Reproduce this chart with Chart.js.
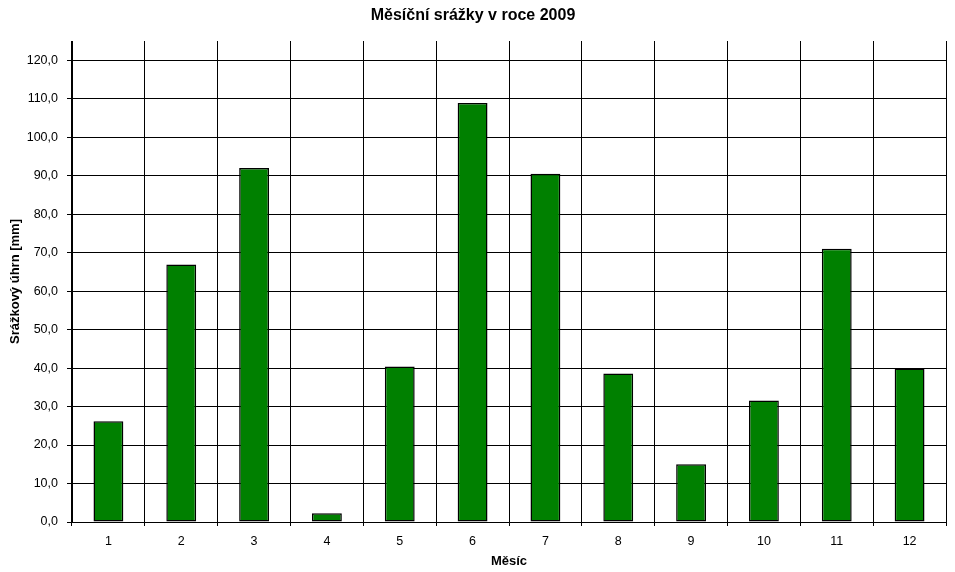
<!DOCTYPE html>
<html>
<head>
<meta charset="utf-8">
<script src="https://cdn.jsdelivr.net/npm/chart.js@4/dist/chart.umd.min.js"></script>
<style>
  html, body { margin: 0; padding: 0; background: #fff; }
  canvas { display: block; }
</style>
</head>
<body>
<canvas id="c" width="955" height="572"></canvas>
<script>
const months = ['1','2','3','4','5','6','7','8','9','10','11','12'];
const precipitation = [26.2, 66.9, 92.0, 2.3, 40.4, 108.9, 90.5, 38.6, 15.0, 31.6, 71.0, 39.9];
const yTickMax = 120;
const titleText = 'Měsíční srážky v roce 2009';
const yTitle = 'Srážkový úhrn [mm]';
const xTitle = 'Měsíc';

const FONT = "'Liberation Sans', Arial, sans-serif";
Chart.defaults.font.family = FONT;
Chart.defaults.color = '#000';

new Chart(document.getElementById('c'), {
  type: 'bar',
  data: {
    labels: months,
    datasets: [{
      data: precipitation,
      backgroundColor: '#008000',
      borderColor: '#000',
      borderWidth: 1.5,
      borderSkipped: false,
      categoryPercentage: 1,
      barPercentage: 0.41
    }]
  },
  options: {
    responsive: false,
    animation: false,
    layout: { padding: { left: 0, right: 9, top: 0, bottom: 0 } },
    plugins: {
      legend: { display: false },
      tooltip: { enabled: false },
      title: {
        display: true,
        text: titleText,
        color: '#000',
        font: { size: 16, weight: 'bold', family: FONT },
        padding: { top: 6, bottom: 15.8 }
      }
    },
    scales: {
      x: {
        offset: true,
        grid: { offset: true, color: '#000', lineWidth: 1, tickLength: 4, drawTicks: true },
        border: { color: '#000', width: 1 },
        ticks: { color: '#000', font: { size: 12.5, family: FONT }, padding: 8, maxRotation: 0 },
        title: { display: true, text: xTitle, color: '#000', font: { size: 13, weight: 'bold', family: FONT }, padding: { top: 0, bottom: 3 } },
        afterFit: s => { s.height = 50; }
      },
      y: {
        min: 0,
        max: 125,
        grid: { color: '#000', lineWidth: 1, tickLength: 5, drawTicks: true },
        border: { color: '#000', width: 1 },
        ticks: {
          stepSize: 10,
          color: '#000',
          font: { size: 12.5, family: FONT },
          padding: 9,
          callback: v => v.toFixed(1).replace('.', ',')
        },
        afterBuildTicks: s => { s.ticks = s.ticks.filter(t => t.value <= yTickMax); },
        title: { display: true, text: yTitle, color: '#000', font: { size: 13, weight: 'bold', family: FONT }, padding: { top: 8, bottom: 0 } },
        afterFit: s => { s.width = 72; }
      }
    }
  }
});
</script>
</body>
</html>
